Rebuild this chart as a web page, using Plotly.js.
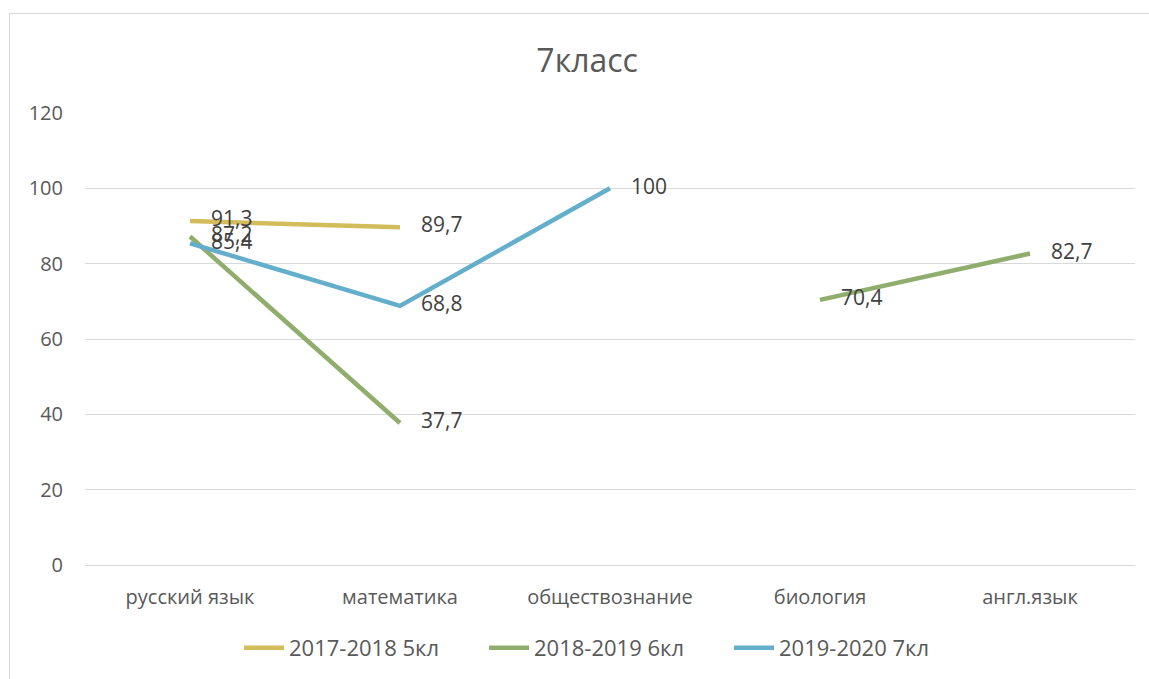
<!DOCTYPE html>
<html>
<head>
<meta charset="utf-8">
<script src="https://cdn.plot.ly/plotly-3.0.1.min.js"></script>
<style>
html,body{margin:0;padding:0;background:#fff;}
#wrap{position:relative;width:1149px;height:679px;}
#frame{position:absolute;left:9px;top:13px;width:1140px;height:666px;border-left:1px solid #d9d9d9;border-top:1px solid #d9d9d9;box-sizing:border-box;pointer-events:none;}
#chart{position:absolute;left:0;top:0;width:1149px;height:679px;}
</style>
</head>
<body>
<div id="wrap">
<div id="chart"></div>
<div id="frame"></div>
</div>
<script>
const categories = ["русский язык", "математика", "обществознание", "биология", "англ.язык"];
const seriesNames = ["2017-2018 5кл", "2018-2019 6кл", "2019-2020 7кл"];
const s2017 = [91.3, 89.7, null, null, null];
const s2018 = [87.2, 37.7, null, 70.4, 82.7];
const s2019 = [85.4, 68.8, 100, null, null];
const yTicks = [0, 20, 40, 60, 80, 100, 120];

const colors = ["#D2BC5C", "#8FAD6C", "#63AFCB"];
const font = "'Open Sans', 'DejaVu Sans', sans-serif";
const pad = "\u2002\u2002";
const fmt = v => v === null ? "" : pad + String(v).replace(".", ",");

const allSeries = [s2017, s2018, s2019];
const traces = allSeries.map((vals, i) => ({
  type: "scatter",
  mode: "lines+text",
  name: seriesNames[i],
  x: categories,
  y: vals,
  text: vals.map(fmt),
  textposition: "middle right",
  textfont: {family: font, size: 21, color: "#404040"},
  line: {color: colors[i], width: 4.5},
  connectgaps: false,
  cliponaxis: false,
  hoverinfo: "x+y"
}));

const layout = {
  width: 1149, height: 679,
  paper_bgcolor: "rgba(0,0,0,0)",
  plot_bgcolor: "#fff",
  margin: {l: 85, r: 14, t: 113, b: 114},
  title: {text: "7класс", x: 0.511, xanchor: "center", y: 0.91, yanchor: "middle",
          font: {family: font, size: 32, color: "#595959"}},
  xaxis: {
    type: "category", range: [-0.5, 4.5],
    showgrid: false, zeroline: false, showline: false,
    ticks: "", tickfont: {family: font, size: 20, color: "#595959"},
    ticklabelstandoff: 18
  },
  yaxis: {
    range: [0, 120], tickvals: yTicks, ticktext: yTicks.map(String),
    showgrid: true, gridcolor: "#d9d9d9", gridwidth: 1,
    zeroline: true, zerolinecolor: "#d9d9d9", showline: false,
    ticks: "", tickfont: {family: font, size: 20, color: "#595959"},
    ticklabelstandoff: 21
  },
  showlegend: true,
  legend: {orientation: "h", x: 0.1467, xanchor: "left",
           yref: "container", y: 1 - 648 / 679, yanchor: "middle",
           entrywidth: 190, entrywidthmode: "pixels",
           font: {family: font, size: 22, color: "#595959"}, itemwidth: 40},
  separators: ", "
};

Plotly.newPlot("chart", traces, layout, {displayModeBar: false, staticPlot: true});
</script>
</body>
</html>
